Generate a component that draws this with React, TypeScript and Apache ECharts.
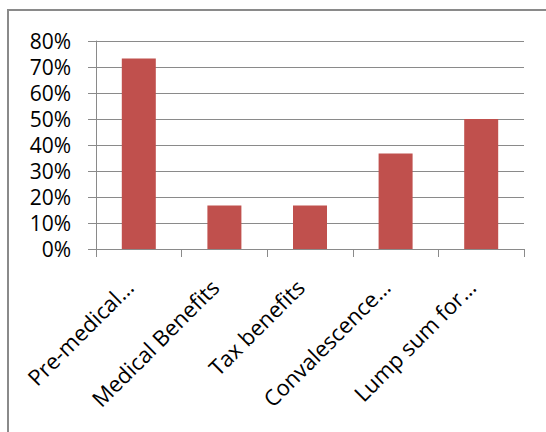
import React, { useEffect, useRef } from "react";
import * as echarts from "echarts";

const categories = ["Pre-medical…", "Medical Benefits", "Tax benefits", "Convalescence…", "Lump sum for…"];
const values = [0.733, 0.167, 0.167, 0.367, 0.5];
const yTicks = { min: 0, max: 0.8, interval: 0.1 };

export default function App() {
  const ref = useRef<HTMLDivElement>(null);
  useEffect(() => {
    if (!ref.current) return;
    const chart = echarts.init(ref.current, null, { renderer: "svg" });
    const font = "'Open Sans', sans-serif";
    chart.setOption({
      animation: false,
      backgroundColor: "#ffffff",
      grid: { left: 96, right: 22, top: 41, bottom: 183, containLabel: false },
      graphic: [
        {
          type: "rect",
          shape: { x: 8, y: 10, width: 700, height: 600 },
          style: { fill: "none", stroke: "#8a8a8a", lineWidth: 2 },
          silent: true,
        },
      ],
      xAxis: {
        type: "category",
        data: categories,
        axisLine: { show: true, lineStyle: { color: "#8a8a8a", width: 1 } },
        axisTick: { show: true, length: 8, alignWithLabel: false, lineStyle: { color: "#8a8a8a" } },
        axisLabel: {
          rotate: 45,
          interval: 0,
          margin: 24,
          padding: [0, 14, 0, 0],
          fontFamily: font,
          fontSize: 22,
          color: "#000000",
        },
      },
      yAxis: {
        type: "value",
        min: yTicks.min,
        max: yTicks.max,
        interval: yTicks.interval,
        axisLine: { show: true, lineStyle: { color: "#8a8a8a", width: 1 } },
        axisTick: { show: true, length: 8, lineStyle: { color: "#8a8a8a" } },
        splitLine: { show: true, lineStyle: { color: "#8a8a8a", width: 1 } },
        axisLabel: {
          margin: 25,
          fontFamily: font,
          fontSize: 21,
          lineHeight: 21,
          color: "#000000",
          formatter: (v: number) => Math.round(v * 100) + "%",
        },
      },
      series: [
        {
          type: "bar",
          data: values,
          barWidth: 34,
          itemStyle: { color: "#C0504D" },
        },
      ],
    });
    return () => chart.dispose();
  }, []);
  return (
    <div
      ref={ref}
      style={{ position: "absolute", left: 0, top: 0, width: 546, height: 432 }}
    />
  );
}
